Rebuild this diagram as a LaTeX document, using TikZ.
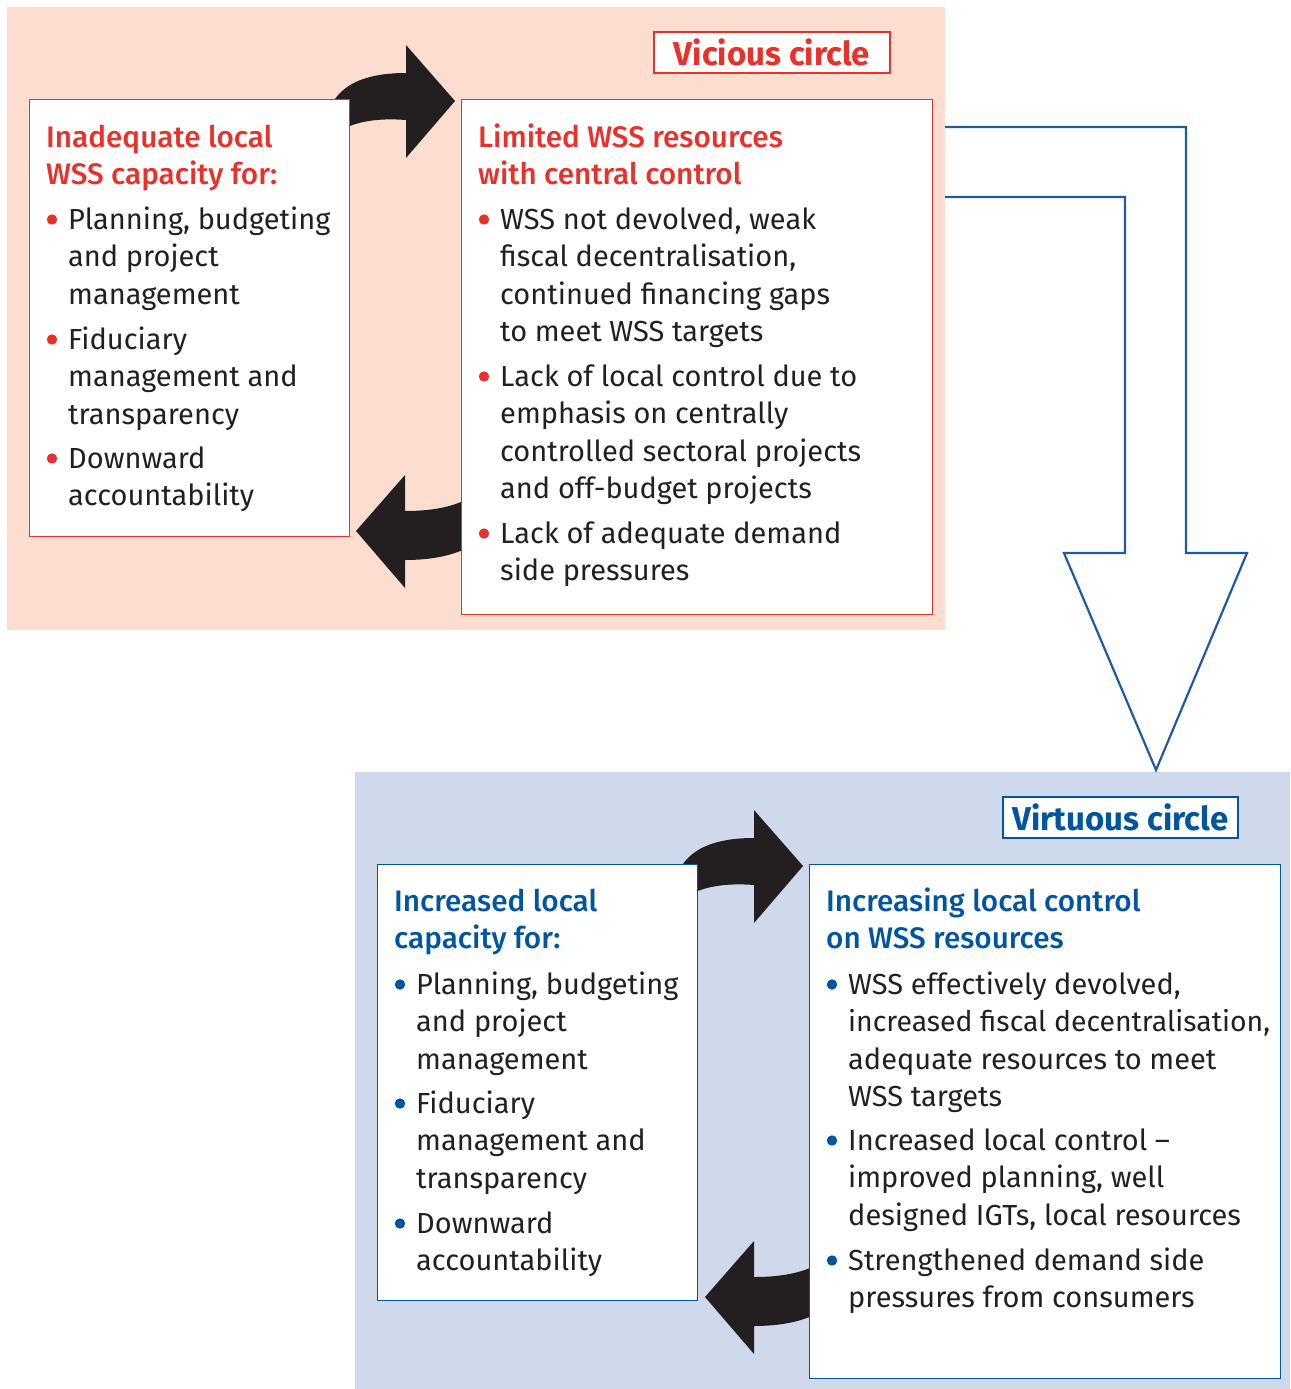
\documentclass[tikz,border=0pt]{standalone}
\usepackage{fontspec}
\setmainfont{Fira Sans}
\newfontfamily\hdfont{Fira Sans Medium}
\definecolor{vred}{HTML}{E8312A}
\definecolor{vblue}{HTML}{0055A0}
\definecolor{pinkbg}{HTML}{FDDDD0}
\definecolor{bluebg}{HTML}{D0D8EC}
\definecolor{txt}{HTML}{231F20}
\definecolor{arrowblue}{HTML}{1E5AA0}
\newcommand\bitem[5]{%
  \node[itemtext] (#1) at (#2,#3) {\parbox[t]{460pt}{#5}};
  \fill[#4] (#1.base west) ++(-16,-9.5) circle[radius=5.2];
}
\begin{document}
\begin{tikzpicture}[x=1pt,y=-1pt,
  panel/.style={draw=#1, line width=1.3pt, fill=white, inner sep=0pt, anchor=north west},
  hdtext/.style={anchor=base west, inner sep=0pt, text=#1, font=\hdfont\fontsize{29.7}{37.5}\selectfont},
  itemtext/.style={anchor=base west, inner sep=0pt, text=txt, font=\fontsize{29}{37.5}\selectfont},
  titletext/.style={draw=#1, line width=1.3pt, fill=white, text=#1, inner sep=0pt, font=\bfseries\fontsize{33}{36}\selectfont},
  curl/.style={fill=txt}
]
\useasboundingbox (0,0) rectangle (1290,1389);
% backgrounds
\fill[pinkbg] (7,7) rectangle (945,630);
\fill[bluebg] (355,772) rectangle (1290,1389);

% black curved arrows (drawn behind the boxes)
\fill[curl] (340,140) -- (333,102) .. controls (345,82) and (370,73) .. (406,73)
   -- (406,45) -- (455,101) -- (406,158) -- (406,120)
   .. controls (380,118) and (360,121) .. (345,128) -- cycle;
\fill[curl] (472,545) -- (472,497) -- (463,501) .. controls (448,508) and (428,511) .. (405,511)
   -- (405,475) -- (356,531) -- (405,588) -- (405,560)
   .. controls (430,560) and (450,556) .. (465,549) -- cycle;
\begin{scope}[shift={(348,765)}]
\fill[curl] (340,140) -- (333,102) .. controls (345,82) and (370,73) .. (406,73)
   -- (406,45) -- (455,101) -- (406,158) -- (406,120)
   .. controls (380,118) and (360,121) .. (345,128) -- cycle;
\end{scope}
\begin{scope}[shift={(349,766)}]
\fill[curl] (472,545) -- (472,497) -- (463,501) .. controls (448,508) and (428,511) .. (405,511)
   -- (405,475) -- (356,531) -- (405,588) -- (405,560)
   .. controls (430,560) and (450,556) .. (465,549) -- cycle;
\end{scope}

% boxes
\node[panel=vred, minimum width=320pt, minimum height=437pt] (vl) at (29,99) {};
\node[panel=vred, minimum width=471pt, minimum height=515pt] (vr) at (461,99) {};
\node[panel=vblue, minimum width=320pt, minimum height=436pt] (gl) at (377,864) {};
\node[panel=vblue, minimum width=471pt, minimum height=514pt] (gr) at (809,864) {};

% titles
\node[titletext=vred, minimum width=236pt, minimum height=41pt] (vt) at (772,52.5) {Vicious circle};
\node[titletext=vblue, minimum width=235pt, minimum height=41pt] (gt) at (1120.5,817.5) {Virtuous circle};

% vicious left
\node[hdtext=vred] (vlh) at (46,147) {\parbox[t]{300pt}{Inadequate local\\WSS capacity for:}};
\bitem{vl1}{68}{229}{vred}{Planning, budgeting\\and project\\management}
\bitem{vl2}{68}{349}{vred}{Fiduciary\\management and\\transparency}
\bitem{vl3}{68}{468}{vred}{Downward\\accountability}

% vicious right
\node[hdtext=vred] (vrh) at (478,147) {\parbox[t]{440pt}{Limited WSS resources\\with central control}};
\bitem{vr1}{500}{229}{vred}{WSS not devolved, weak\\fiscal decentralisation,\\continued financing gaps\\to meet WSS targets}
\bitem{vr2}{500}{386}{vred}{Lack of local control due to\\emphasis on centrally\\controlled sectoral projects\\and off-budget projects}
\bitem{vr3}{500}{543}{vred}{Lack of adequate demand\\side pressures}

% virtuous left
\node[hdtext=vblue] (glh) at (394,911) {\parbox[t]{300pt}{Increased local\\capacity for:}};
\bitem{gl1}{416}{994}{vblue}{Planning, budgeting\\and project\\management}
\bitem{gl2}{416}{1113}{vblue}{Fiduciary\\management and\\transparency}
\bitem{gl3}{416}{1233}{vblue}{Downward\\accountability}

% virtuous right
\node[hdtext=vblue] (grh) at (826,911) {\parbox[t]{440pt}{Increasing local control\\on WSS resources}};
\bitem{gr1}{848}{994}{vblue}{WSS effectively devolved,\\{\fontsize{28.4}{37.5}\selectfont increased fiscal decentralisation,}\\adequate resources to meet\\WSS targets}
\bitem{gr2}{848}{1150}{vblue}{Increased local control –\\improved planning, well\\designed IGTs, local resources}
\bitem{gr3}{848}{1270}{vblue}{Strengthened demand side\\pressures from consumers}

% big outline arrow from vicious to virtuous
\coordinate (a1) at (945,127);
\coordinate (a2) at (945,197);
\draw[arrowblue, line width=2.2pt, line join=miter] (a1) -- (1186,127) -- (1186,553) -- (1247,553)
   -- (1156,770) -- (1064,553) -- (1125,553) -- (1125,197) -- (a2);
\end{tikzpicture}
\end{document}
